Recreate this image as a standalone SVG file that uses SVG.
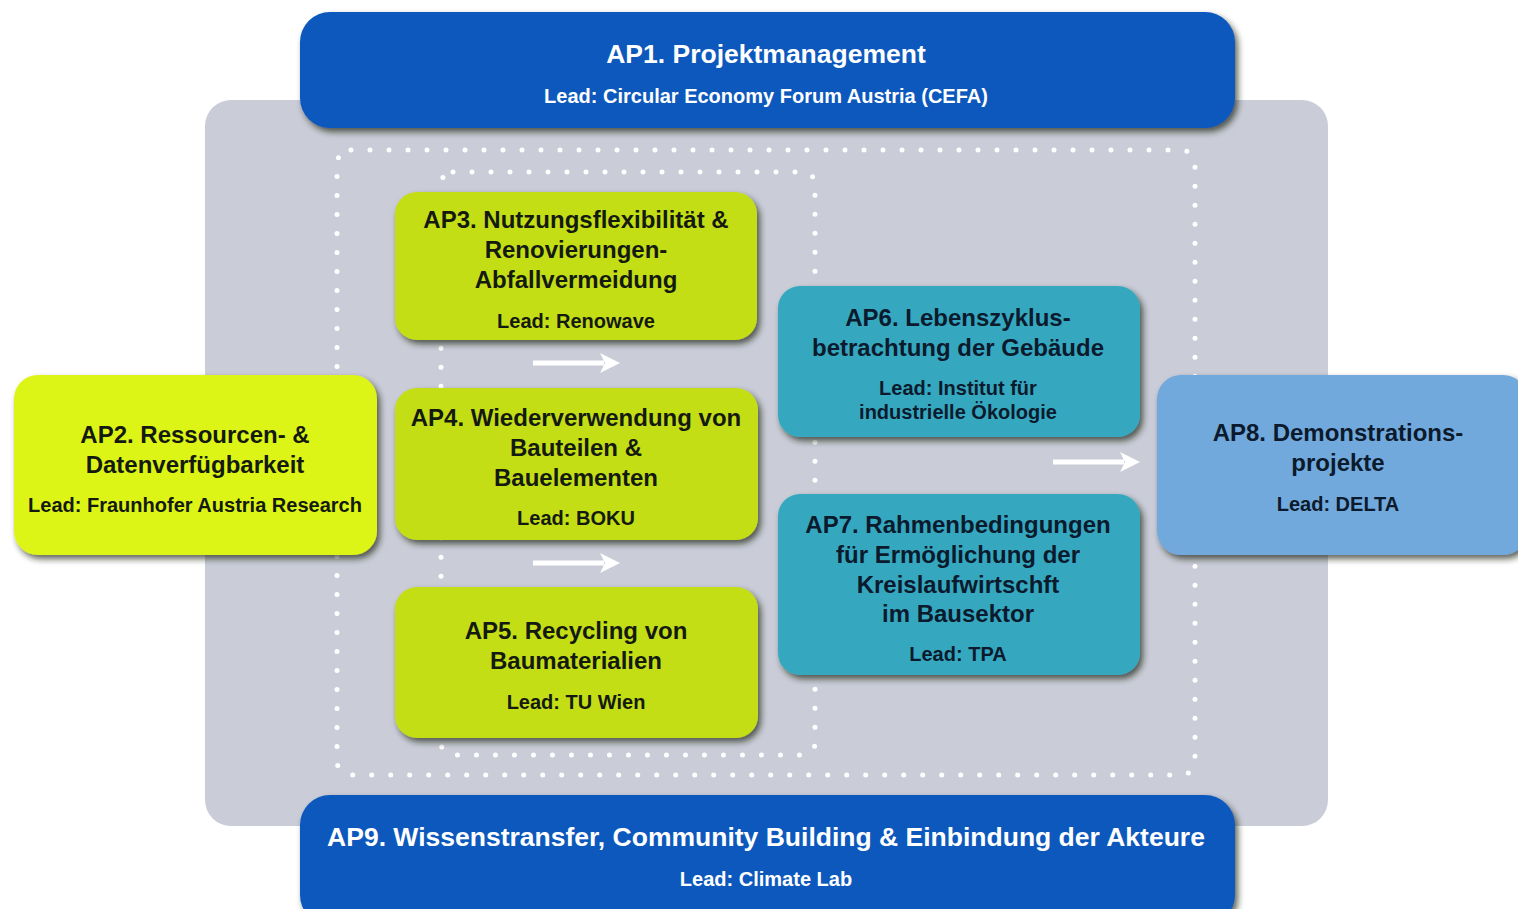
<svg xmlns="http://www.w3.org/2000/svg" width="1518" height="909" viewBox="0 0 1518 909">
<defs>
<filter id="sh" x="-10%" y="-10%" width="125%" height="130%">
<feDropShadow dx="3" dy="4" stdDeviation="3" flood-color="#1a2010" flood-opacity="0.7"/>
</filter>
<marker id="ah" viewBox="0 0 10 10" refX="2" refY="5" markerWidth="4" markerHeight="4" orient="auto" markerUnits="strokeWidth">
<path d="M0,0 L10,5 L0,10 L2.5,5 Z" fill="#ffffff"/>
</marker>
</defs>
<style>
.t{font-family:"Liberation Sans",Arial,sans-serif;font-weight:bold;text-anchor:middle}
.w{fill:#ffffff}
.k{fill:#141a10}
.n{fill:#0b1a2c}
.big{font-size:26.5px}
.mid{font-size:24px}
.sm{font-size:20px}
.dots{fill:none;stroke:#ffffff;stroke-width:5;stroke-linecap:round;stroke-dasharray:0 19}
.arr{stroke:#ffffff;stroke-width:5;fill:none}
</style>
<rect width="1518" height="909" fill="#ffffff"/>
<g id="background">
<rect x="205" y="100" width="1123" height="726" rx="26" fill="#cacdd8"/>
<rect class="dots" x="337" y="150" width="858" height="625" rx="14"/>
<rect class="dots" x="441" y="172" width="374" height="583" rx="12"/>
</g>
<g id="ap1">
<rect x="300" y="12" width="935" height="116" rx="30" fill="#0a58bd" filter="url(#sh)"/>
<text class="t w big" x="766" y="63">AP1. Projektmanagement</text>
<text class="t w sm" x="766" y="103">Lead: Circular Economy Forum Austria (CEFA)</text>
</g>
<g id="ap9">
<rect x="300" y="795" width="935" height="130" rx="30" fill="#0a58bd" filter="url(#sh)"/>
<text class="t w big" x="766" y="846">AP9. Wissenstransfer, Community Building &amp; Einbindung der Akteure</text>
<text class="t w sm" x="766" y="886">Lead: Climate Lab</text>
</g>
<g id="ap2">
<rect x="14" y="375" width="363" height="180" rx="24" fill="#ddf512" filter="url(#sh)"/>
<text class="t k mid" x="195" y="443">AP2. Ressourcen- &amp;</text>
<text class="t k mid" x="195" y="473">Datenverfügbarkeit</text>
<text class="t k sm" x="195" y="512">Lead: Fraunhofer Austria Research</text>
</g>
<g id="ap3">
<rect x="395" y="192" width="362" height="148" rx="22" fill="#c4de13" filter="url(#sh)"/>
<text class="t k mid" x="576" y="228">AP3. Nutzungsflexibilität &amp;</text>
<text class="t k mid" x="576" y="258">Renovierungen-</text>
<text class="t k mid" x="576" y="288">Abfallvermeidung</text>
<text class="t k sm" x="576" y="328">Lead: Renowave</text>
</g>
<g id="ap4">
<rect x="395" y="388" width="363" height="152" rx="22" fill="#c4de13" filter="url(#sh)"/>
<text class="t k mid" x="576" y="426">AP4. Wiederverwendung von</text>
<text class="t k mid" x="576" y="456">Bauteilen &amp;</text>
<text class="t k mid" x="576" y="486">Bauelementen</text>
<text class="t k sm" x="576" y="525">Lead: BOKU</text>
</g>
<g id="ap5">
<rect x="395" y="587" width="363" height="151" rx="22" fill="#c4de13" filter="url(#sh)"/>
<text class="t k mid" x="576" y="639">AP5. Recycling von</text>
<text class="t k mid" x="576" y="669">Baumaterialien</text>
<text class="t k sm" x="576" y="709">Lead: TU Wien</text>
</g>
<g id="ap6">
<rect x="778" y="286" width="362" height="151" rx="22" fill="#36a8c0" filter="url(#sh)"/>
<text class="t n mid" x="958" y="326">AP6. Lebenszyklus-</text>
<text class="t n mid" x="958" y="356">betrachtung der Gebäude</text>
<text class="t n sm" x="958" y="395">Lead: Institut für</text>
<text class="t n sm" x="958" y="419">industrielle Ökologie</text>
</g>
<g id="ap7">
<rect x="778" y="494" width="362" height="181" rx="22" fill="#36a8c0" filter="url(#sh)"/>
<text class="t n mid" x="958" y="533">AP7. Rahmenbedingungen</text>
<text class="t n mid" x="958" y="563">für Ermöglichung der</text>
<text class="t n mid" x="958" y="593">Kreislaufwirtschft</text>
<text class="t n mid" x="958" y="622">im Bausektor</text>
<text class="t n sm" x="958" y="661">Lead: TPA</text>
</g>
<g id="ap8">
<rect x="1157" y="375" width="370" height="180" rx="24" fill="#72a9dc" filter="url(#sh)"/>
<text class="t n mid" x="1338" y="441">AP8. Demonstrations-</text>
<text class="t n mid" x="1338" y="471">projekte</text>
<text class="t n sm" x="1338" y="511">Lead: DELTA</text>
</g>
<g id="connectors">
<line class="arr" x1="533" y1="363" x2="604" y2="363" marker-end="url(#ah)"/>
<line class="arr" x1="533" y1="563" x2="604" y2="563" marker-end="url(#ah)"/>
<line class="arr" x1="1053" y1="462" x2="1124" y2="462" marker-end="url(#ah)"/>
</g>
</svg>
